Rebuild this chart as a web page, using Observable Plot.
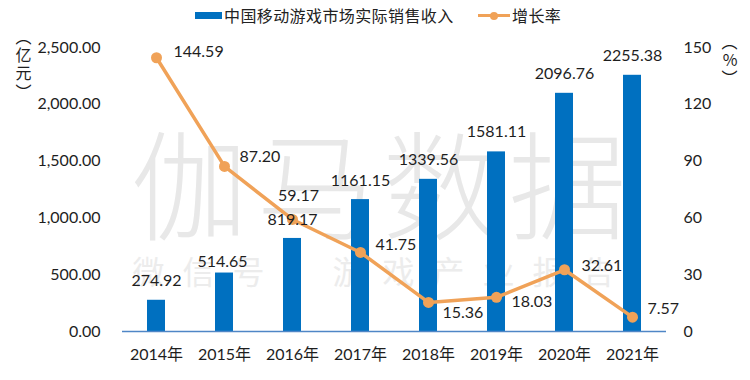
<!DOCTYPE html>
<html>
<head>
<meta charset="utf-8">
<script src="https://cdn.jsdelivr.net/npm/d3@7"></script>
<script src="https://cdn.jsdelivr.net/npm/@observablehq/plot@0.6"></script>
<style>
  body { margin: 0; background: #fff; font-family: Lato, "Noto Sans CJK SC", sans-serif; }
  #wrap { position: relative; width: 750px; height: 380px; overflow: hidden; }
  #legend { position: relative; height: 32px; font-family: "Noto Sans CJK SC", sans-serif; font-size: 16px; color: #222; }
  #legend .sw { position: absolute; }
  #legend .lb { position: absolute; top: 4px; line-height: 22px; letter-spacing: 0.4px; white-space: nowrap; }
</style>
</head>
<body>
<div id="wrap">
  <div id="legend"></div>
  <div id="chart"></div>
</div>
<script>
// ---- data ----
const years = ["2014年", "2015年", "2016年", "2017年", "2018年", "2019年", "2020年", "2021年"];
const revenue = [274.92, 514.65, 819.17, 1161.15, 1339.56, 1581.11, 2096.76, 2255.38];
const growth = [144.59, 87.20, 59.17, 41.75, 15.36, 18.03, 32.61, 7.57];
const leftTicks = [0, 500, 1000, 1500, 2000, 2500];
const rightTicks = [0, 30, 60, 90, 120, 150];
const seriesNames = ["中国移动游戏市场实际销售收入", "增长率"];
const leftTitle = "︵\n亿\n元\n︶";
const rightTitle = "︵\n%\n︶";
const watermark = "伽马数据";
const watermark2 = "微信号：游戏产业报告";

// ---- styles / layout ----
const barColor = "#0070C0";
const lineColor = "#F0A258";
const textColor = "#1e1e1e";
const k = 2500 / 150; // right-axis (%) to left-axis units
// label nudges [dx, dy, anchor] for growth labels
const growthNudges = [[17, -6, "start"], [15, -10, "start"], [6, -24, "middle"], [15, -8, "start"],
                      [14, 10, "start"], [15, 5, "start"], [17, -4, "start"], [15, -8, "start"]];
const barNudges = [[0, -19], [-2, -11], [0, -19], [0, -19], [0, -19], [0, -20], [0, -19], [0, -19]];

const data = years.map((year, i) => ({year, revenue: revenue[i], growth: growth[i], i}));

// ---- legend ----
const legend = document.getElementById("legend");
legend.innerHTML = `
  <div class="sw" style="left:195px;top:12px;width:27px;height:7px;background:${barColor}"></div>
  <div class="lb" style="left:224px">${seriesNames[0]}</div>
  <div class="sw" style="left:478px;top:14px;width:32px;height:3px;background:${lineColor}"></div>
  <div class="sw" style="left:490px;top:11.5px;width:8px;height:8px;border-radius:50%;background:${lineColor}"></div>
  <div class="lb" style="left:512px">${seriesNames[1]}</div>`;

const fontFam = 'Lato, "Noto Sans CJK SC", sans-serif';

const growthLabelMarks = data.map((d, i) => Plot.text([d], {
  x: "year", y: r => r.growth * k, text: r => r.growth.toFixed(2),
  dx: growthNudges[i][0], dy: growthNudges[i][1], textAnchor: growthNudges[i][2],
  fontSize: 16, fill: textColor
}));
const barLabelMarks = data.map((d, i) => Plot.text([d], {
  x: "year", y: "revenue", text: r => r.revenue.toFixed(2),
  dx: barNudges[i][0], dy: barNudges[i][1], fontSize: 16, fill: textColor
}));

const chart = Plot.plot({
  width: 750,
  height: 348,
  marginLeft: 122,
  marginRight: 84,
  marginTop: 15,
  marginBottom: 49,
  style: {fontFamily: fontFam, fontSize: "16px", color: textColor, background: "#fff", overflow: "visible"},
  x: {domain: years, paddingInner: 0.735, paddingOuter: 0.3675, axis: null},
  y: {domain: [0, 2500], axis: null},
  marks: [
    Plot.text([watermark], {frameAnchor: "middle", dx: -12, dy: 4, fontSize: 118, fill: "#e8e8e8",
      fontFamily: '"Noto Sans CJK SC"', fontWeight: 300}),
    Plot.text([watermark2], {frameAnchor: "left", dx: 10, dy: 84, textAnchor: "start", fontSize: 32, fill: "#ececec",
      fontFamily: '"Noto Sans CJK SC"'}),
    Plot.barY(data, {x: "year", y: "revenue", fill: barColor}),
    Plot.ruleY([0], {stroke: "#4f86c6", strokeWidth: 1.3}),
    Plot.axisX({tickSize: 0, tickPadding: 17, fontSize: 16, label: null, fill: textColor}),
    Plot.axisY({anchor: "left", ticks: leftTicks, tickFormat: d3.format(",.2f"), tickSize: 0, tickPadding: 22, label: null, fontSize: 16, fill: textColor}),
    Plot.axisY({anchor: "right", ticks: rightTicks.map(v => v * k), tickFormat: d => String(Math.round(d / k)), tickSize: 0, tickPadding: 17, label: null, fontSize: 16, fill: textColor}),
    Plot.lineY(data, {x: "year", y: d => d.growth * k, stroke: lineColor, strokeWidth: 3.5}),
    Plot.dot(data, {x: "year", y: d => d.growth * k, r: 5.5, fill: lineColor, stroke: "none"}),
    ...barLabelMarks,
    ...growthLabelMarks,
    Plot.text([leftTitle], {frameAnchor: "top-left", dx: -107, dy: -18, lineAnchor: "top", lineHeight: 1.15, fontSize: 16, fill: textColor,
      fontFamily: '"Noto Sans CJK SC"'}),
    Plot.text([rightTitle], {frameAnchor: "top-right", dx: 71, dy: -13, lineAnchor: "top", lineHeight: 1.15, fontSize: 16, fill: textColor,
      fontFamily: '"Noto Sans CJK SC"'})
  ]
});
d3.select(chart).selectAll("text")
  .filter(function () { return this.textContent === watermark; }).attr("letter-spacing", 8);
d3.select(chart).selectAll("text")
  .filter(function () { return this.textContent === watermark2; }).attr("letter-spacing", 18);
document.getElementById("chart").appendChild(chart);
</script>
</body>
</html>
